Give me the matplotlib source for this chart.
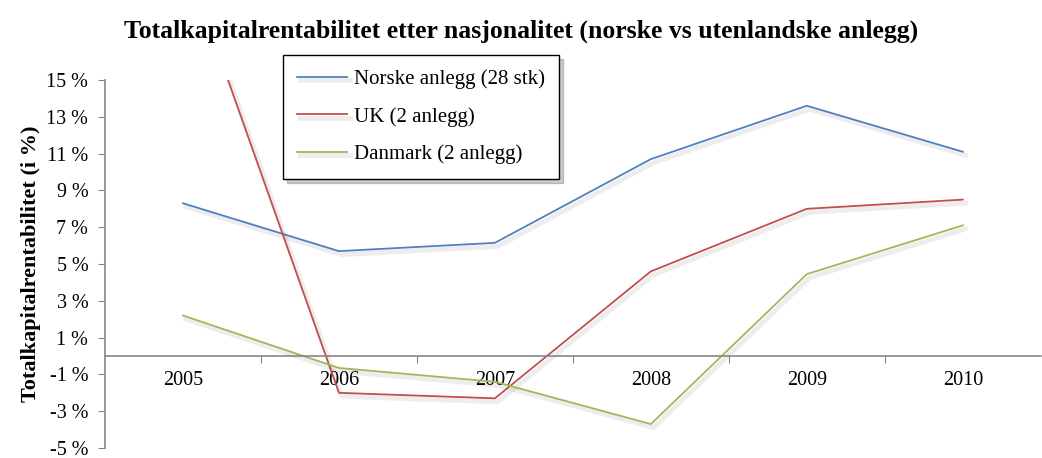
import matplotlib
matplotlib.use("Agg")
import matplotlib.pyplot as plt
import matplotlib.patheffects as pe

plt.rcParams['font.family'] = ['Liberation Serif', 'DejaVu Serif']

years = ['2005', '2006', '2007', '2008', '2009', '2010']
norske = [8.3, 5.7, 6.15, 10.7, 13.6, 11.1]
uk = [21.9, -2.0, -2.3, 4.6, 8.0, 8.5]
danmark = [2.2, -0.65, -1.4, -3.7, 4.45, 7.1]
labels = ['Norske anlegg (28 stk)', 'UK (2 anlegg)', 'Danmark (2 anlegg)']
colors = ['#4F81BD', '#C0504D', '#9BBB59']
yticks = [-5, -3, -1, 1, 3, 5, 7, 9, 11, 13, 15]

fig = plt.figure(figsize=(10.42, 4.58), dpi=100)
ax = fig.add_axes([0.1008, 0.0218, 0.898, 0.8035])

shadow = [pe.SimpleLineShadow(offset=(2, -2.5), shadow_color='black', alpha=0.07, linewidth=3.5),
          pe.Normal()]
x = list(range(len(years)))
for vals, lab, c in zip([norske, uk, danmark], labels, colors):
    ax.plot(x, vals, color=c, lw=1.3, label=lab, path_effects=shadow)

ax.set_xlim(-0.5, 5.5)
ax.set_ylim(-5, 15)
ax.set_yticks(yticks)
ax.set_yticklabels([f'{v} %' for v in yticks])

ax.set_xticks([i + 0.5 for i in range(len(years) - 1)])
ax.set_xticklabels([])
ax.set_xticks(x, minor=True)
ax.set_xticklabels(years, minor=True)
ax.tick_params(axis='x', which='major', direction='out', length=5, color='#868686')
ax.tick_params(axis='x', which='minor', length=0, pad=11, labelsize=14.5)
ax.tick_params(axis='y', direction='out', length=5, color='#868686', pad=7, labelsize=14.5)

for s in ['top', 'right']:
    ax.spines[s].set_visible(False)
ax.spines['bottom'].set_position(('data', 0))
for s in ['left', 'bottom']:
    ax.spines[s].set_color('#868686')
    ax.spines[s].set_linewidth(1.2)

ax.set_ylabel('Totalkapitalrentabilitet (i %)', fontsize=16, fontweight='bold', labelpad=4)
fig.suptitle('Totalkapitalrentabilitet etter nasjonalitet (norske vs utenlandske anlegg)',
             fontsize=18.5, fontweight='bold', y=0.958)

leg = ax.legend(loc='upper left', bbox_to_anchor=(0.19, 1.068), fontsize=15, frameon=True,
                fancybox=False, shadow={'color': 'black', 'alpha': 0.2, 'ox': 3, 'oy': -3},
                edgecolor='black', handlelength=2.4, handletextpad=0.3, labelspacing=0.85,
                borderpad=0.7, borderaxespad=0)
leg.get_frame().set_linewidth(1.0)
leg.set_zorder(5)

fig.savefig('out.png', dpi=100)
